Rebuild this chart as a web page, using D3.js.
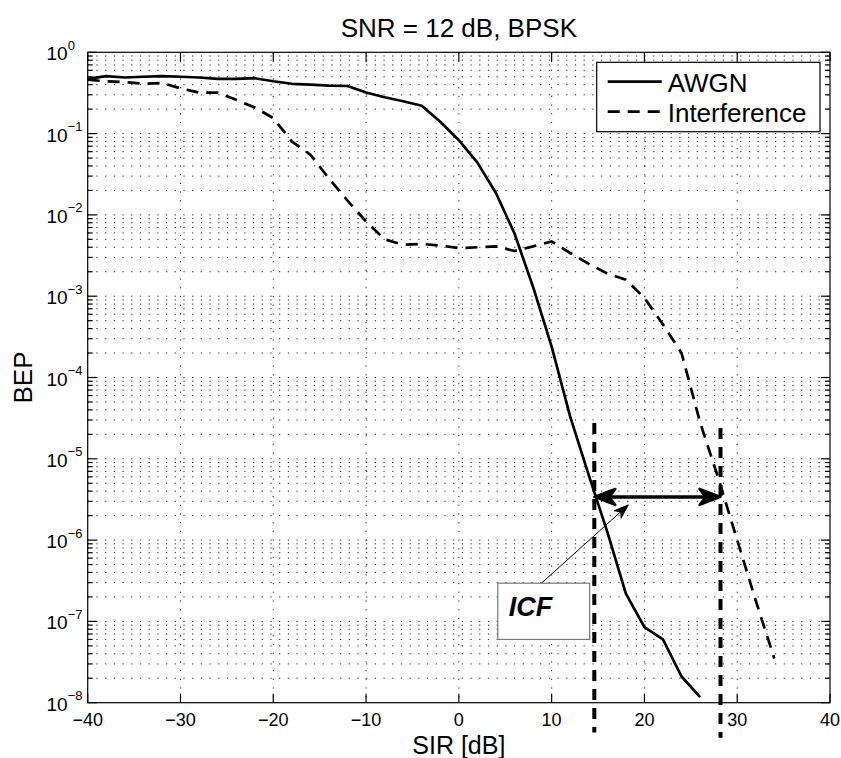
<!DOCTYPE html>
<html>
<head>
<meta charset="utf-8">
<script src="https://cdn.jsdelivr.net/npm/d3@7"></script>
<style>
  html, body { margin: 0; padding: 0; background: #fff; }
  svg { display: block; font-family: "Liberation Sans", Arial, Helvetica, sans-serif; }
</style>
</head>
<body>
<div id="chart"></div>
<script>
// BEP vs. SIR, SNR = 12 dB, BPSK
const SIR_AWGN = [-40, -38, -36, -34, -32, -30, -28, -26, -24, -22, -20, -18, -16, -14, -12, -10, -8, -6, -4, -2,
  0, 2, 4, 6, 8, 10, 12, 14, 16, 18, 20, 22, 24, 26];
const BEP_AWGN = [0.47, 0.51, 0.49, 0.50, 0.51, 0.50, 0.49, 0.47, 0.47, 0.48, 0.44, 0.41, 0.40, 0.39, 0.385, 0.32, 0.28, 0.25, 0.22, 0.14,
  0.083, 0.044, 0.0186, 0.0059, 1.3e-3, 2.4e-4, 3.3e-5, 6.3e-6, 1.26e-6, 2.2e-7, 8.5e-8, 6.0e-8, 2.1e-8, 1.17e-8];

const SIR_INTERF = [-40, -38, -36, -34, -32, -30, -28, -26, -24, -22, -20, -18, -16, -14, -12, -10, -8, -6, -4, -2,
  0, 2, 4, 6, 8, 10, 12, 14, 16, 18, 20, 22, 24, 26, 28, 30, 32, 34];
const BEP_INTERF = [0.46, 0.44, 0.43, 0.41, 0.42, 0.36, 0.32, 0.32, 0.26, 0.21, 0.155, 0.08, 0.055, 0.028, 0.015, 0.0083, 0.005, 0.0043, 0.0044, 0.0042,
  0.0039, 0.0040, 0.0041, 0.0036, 0.0041, 0.0047, 0.0034, 0.0025, 0.0019, 0.0016, 9.5e-4, 4.5e-4, 2.0e-4, 2.8e-5, 5.6e-6, 1.0e-6, 1.8e-7, 3.5e-8];

const X_TICKS = [-40, -30, -20, -10, 0, 10, 20, 30, 40];
const Y_EXPONENTS = [0, -1, -2, -3, -4, -5, -6, -7, -8];
const LEGEND_LABELS = ["AWGN", "Interference"];

// ICF annotation, in data units
const ICF_SIR = [14.6, 28.2];          // the two vertical markers
const ICF_MARK_TOP = [2.75e-5, 2.4e-5];
const ICF_MARK_BOTTOM = [4.3e-9, 3.7e-9];
const ICF_BEP = 3.4e-6;                // level of the double arrow
const ICF_BOX_X = [4.2, 14.1];
const ICF_BOX_Y = [2.95e-7, 6.0e-8];
const ICF_POINTER = [[8.9, 2.95e-7], [18.25, 2.7e-6]];

(function () {
  const W = 841, H = 758;
  const PLOT = { left: 87.7, right: 830, top: 52.3, bottom: 702.7 };
  const MAJOR = 9;
  const MINOR = 5;
  const DASH = "12,8";

  const x = d3.scaleLinear().domain([-40, 40]).range([PLOT.left, PLOT.right]);
  const y = d3.scaleLog().domain([1e-8, 1]).range([PLOT.bottom, PLOT.top]);

  const svg = d3.select("#chart").append("svg")
    .attr("width", W)
    .attr("height", H)
    .attr("viewBox", `0 0 ${W} ${H}`);

  svg.append("rect").attr("width", W).attr("height", H).attr("fill", "#fff");

  // Dotted grid: x at major ticks, y at every decade and sub-decade
  const grid = svg.append("g")
    .attr("stroke", "#222")
    .attr("stroke-width", 1)
    .attr("stroke-dasharray", "1.2,7.5");

  X_TICKS.filter(v => v > -40 && v < 40).forEach(v => {
    grid.append("line")
      .attr("x1", x(v)).attr("x2", x(v))
      .attr("y1", PLOT.top).attr("y2", PLOT.bottom);
  });

  const yAll = y.ticks().filter(v => v > 1.01e-8 && v < 0.99);
  yAll.forEach(v => {
    grid.append("line")
      .attr("x1", PLOT.left).attr("x2", PLOT.right)
      .attr("y1", y(v)).attr("y2", y(v));
  });

  // Curves
  const line = d3.line().x(d => x(d[0])).y(d => y(d[1]));

  svg.append("path")
    .datum(d3.zip(SIR_AWGN, BEP_AWGN))
    .attr("d", line)
    .attr("fill", "none")
    .attr("stroke", "#000")
    .attr("stroke-width", 2.7)
    .attr("stroke-linejoin", "round");

  svg.append("path")
    .datum(d3.zip(SIR_INTERF, BEP_INTERF))
    .attr("d", line)
    .attr("fill", "none")
    .attr("stroke", "#000")
    .attr("stroke-width", 2.7)
    .attr("stroke-dasharray", DASH);

  // Axes box + ticks on all four sides
  const axes = svg.append("g").attr("stroke", "#000").attr("stroke-width", 1.2);
  axes.append("rect")
    .attr("x", PLOT.left).attr("y", PLOT.top)
    .attr("width", PLOT.right - PLOT.left)
    .attr("height", PLOT.bottom - PLOT.top)
    .attr("fill", "none");

  X_TICKS.forEach(v => {
    axes.append("line").attr("x1", x(v)).attr("x2", x(v)).attr("y1", PLOT.bottom).attr("y2", PLOT.bottom - MAJOR);
    axes.append("line").attr("x1", x(v)).attr("x2", x(v)).attr("y1", PLOT.top).attr("y2", PLOT.top + MAJOR);
  });

  y.ticks().forEach(v => {
    const isMajor = Math.abs(Math.log10(v) - Math.round(Math.log10(v))) < 1e-6;
    const len = isMajor ? MAJOR : MINOR;
    axes.append("line").attr("x1", PLOT.left).attr("x2", PLOT.left + len).attr("y1", y(v)).attr("y2", y(v));
    axes.append("line").attr("x1", PLOT.right).attr("x2", PLOT.right - len).attr("y1", y(v)).attr("y2", y(v));
  });

  // Tick labels
  X_TICKS.forEach(v => {
    svg.append("text")
      .attr("x", x(v))
      .attr("y", PLOT.bottom + 23.5)
      .attr("text-anchor", "middle")
      .attr("font-size", 18)
      .text(String(v).replace("-", "\u2212"));
  });

  Y_EXPONENTS.forEach(e => {
    const t = svg.append("text")
      .attr("x", 46.5)
      .attr("y", y(Math.pow(10, e)) + 8)
      .attr("font-size", 19);
    t.append("tspan").text("10");
    t.append("tspan")
      .attr("dy", -10.5)
      .attr("font-size", 13)
      .text(String(e).replace("-", "\u2212"));
  });

  // Title + axis labels
  svg.append("text")
    .attr("x", (PLOT.left + PLOT.right) / 2)
    .attr("y", 36.5)
    .attr("text-anchor", "middle")
    .attr("font-size", 26)
    .text("SNR = 12 dB, BPSK");

  svg.append("text")
    .attr("x", (PLOT.left + PLOT.right) / 2)
    .attr("y", 754)
    .attr("text-anchor", "middle")
    .attr("font-size", 25)
    .text("SIR [dB]");

  svg.append("text")
    .attr("transform", `translate(32, ${(PLOT.top + PLOT.bottom) / 2}) rotate(-90)`)
    .attr("text-anchor", "middle")
    .attr("font-size", 26)
    .text("BEP");

  // Legend
  const lg = svg.append("g").attr("transform", "translate(596.7, 62.3)");
  lg.append("rect")
    .attr("width", 223.3).attr("height", 69.4)
    .attr("fill", "#fff").attr("stroke", "#000").attr("stroke-width", 1.2);
  LEGEND_LABELS.forEach((label, i) => {
    const cy = 19.4 + i * 30;
    lg.append("line")
      .attr("x1", 11).attr("x2", 65)
      .attr("y1", cy).attr("y2", cy)
      .attr("stroke", "#000").attr("stroke-width", 2.7)
      .attr("stroke-dasharray", i === 1 ? DASH : null);
    lg.append("text")
      .attr("x", 71)
      .attr("y", cy + 10)
      .attr("font-size", 26)
      .text(label);
  });

  // ICF markers: thick dashed verticals (they run past the axis)
  ICF_SIR.forEach((v, i) => {
    svg.append("line")
      .attr("x1", x(v)).attr("x2", x(v))
      .attr("y1", y(ICF_MARK_TOP[i])).attr("y2", y(ICF_MARK_BOTTOM[i]))
      .attr("stroke", "#000")
      .attr("stroke-width", 4)
      .attr("stroke-dasharray", "11,8");
  });

  // Double arrow between the markers
  const ay = y(ICF_BEP);
  const ax0 = x(ICF_SIR[0]);
  const ax1 = x(ICF_SIR[1]);
  svg.append("line")
    .attr("x1", ax0 + 10).attr("x2", ax1 - 10)
    .attr("y1", ay).attr("y2", ay)
    .attr("stroke", "#000").attr("stroke-width", 3.5);

  const bigHead = "M0,0 L-21,-8 L-15,0 L-21,8 Z";
  [[ax0, 180], [ax1, 0]].forEach(([hx, rot]) => {
    svg.append("path")
      .attr("d", bigHead)
      .attr("transform", `translate(${hx}, ${ay}) rotate(${rot})`)
      .attr("fill", "#000")
      .attr("stroke", "#000")
      .attr("stroke-width", 2.5)
      .attr("stroke-linejoin", "round");
  });

  // Thin pointer from the ICF box to the arrow
  const p0 = [x(ICF_POINTER[0][0]), y(ICF_POINTER[0][1])];
  const p1 = [x(ICF_POINTER[1][0]), y(ICF_POINTER[1][1])];
  const ang = Math.atan2(p1[1] - p0[1], p1[0] - p0[0]) * 180 / Math.PI;
  svg.append("line")
    .attr("x1", p0[0]).attr("y1", p0[1])
    .attr("x2", p1[0]).attr("y2", p1[1])
    .attr("stroke", "#000").attr("stroke-width", 1);
  svg.append("path")
    .attr("d", "M0,0 L-14,-5 L-10,0 L-14,5 Z")
    .attr("transform", `translate(${p1[0]}, ${p1[1]}) rotate(${ang})`)
    .attr("fill", "#000")
    .attr("stroke", "#000")
    .attr("stroke-width", 1)
    .attr("stroke-linejoin", "round");

  // ICF text box
  const bx = x(ICF_BOX_X[0]);
  const by = y(ICF_BOX_Y[0]);
  svg.append("rect")
    .attr("x", bx).attr("y", by)
    .attr("width", x(ICF_BOX_X[1]) - bx)
    .attr("height", y(ICF_BOX_Y[1]) - by)
    .attr("fill", "#fff")
    .attr("stroke", "#777")
    .attr("stroke-width", 1.2);
  svg.append("text")
    .attr("x", bx + 11)
    .attr("y", by + 33)
    .attr("font-size", 27)
    .attr("font-weight", "bold")
    .attr("font-style", "italic")
    .text("ICF");
})();
</script>
</body>
</html>
